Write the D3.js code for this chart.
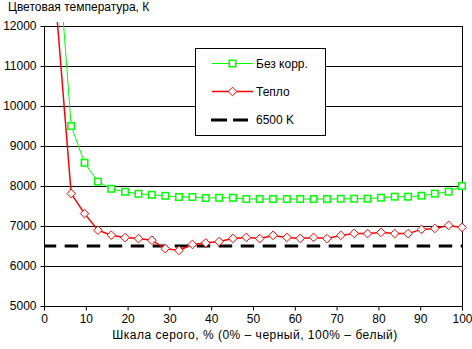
<!DOCTYPE html>
<html>
<head>
<meta charset="utf-8">
<script src="https://cdn.jsdelivr.net/npm/d3@7/dist/d3.min.js"></script>
<style>
  html, body { margin: 0; padding: 0; background: #fff; }
  svg { display: block; }
  text { font-family: "Liberation Sans", Arial, sans-serif; font-size: 12px; fill: #000; }
</style>
</head>
<body>
<svg id="chart" width="472" height="349"></svg>
<script>
// Gray-scale steps, % (0% – black, 100% – white)
const grayLevels = [3.2, 6.5, 9.7, 12.9, 16.1, 19.4, 22.6, 25.8, 29.0, 32.3, 35.5,
  38.7, 41.9, 45.2, 48.4, 51.6, 54.8, 58.1, 61.3, 64.5, 67.7, 71.0, 74.2, 77.4,
  80.6, 83.9, 87.1, 90.3, 93.5, 96.8, 100];

// Colour temperature, K, without correction
const noCorrection = [14100, 9500, 8580, 8110, 7930, 7855, 7805, 7780, 7755, 7725, 7725,
  7700, 7705, 7705, 7675, 7675, 7675, 7675, 7675, 7675, 7675, 7680, 7683, 7683,
  7708, 7733, 7733, 7758, 7808, 7858, 8000];

// Colour temperature, K, "warm" preset
const warm = [12100, 7810, 7310, 6895, 6770, 6710, 6685, 6645, 6435, 6390, 6540,
  6575, 6610, 6690, 6715, 6685, 6765, 6715, 6690, 6715, 6685, 6765, 6815, 6810,
  6840, 6810, 6810, 6915, 6940, 7015, 6965];

const reference = 6500;

const xTicks = [0, 10, 20, 30, 40, 50, 60, 70, 80, 90, 100];
const yTicks = [5000, 6000, 7000, 8000, 9000, 10000, 11000, 12000];

const legendLabels = ["Без корр.", "Тепло", "6500 K"];
const yTitle = "Цветовая температура, К";
const xTitle = "Шкала серого, % (0% – черный, 100% – белый)";

const green = "#00ff00", red = "#ff0000";

const svg = d3.select("#chart");
const plotLeft = 44, plotRight = 462, plotTop = 26, plotBottom = 306;

const x = d3.scaleLinear().domain([0, 100]).range([plotLeft, plotRight]);
const y = d3.scaleLinear().domain([5000, 12000]).range([plotBottom, plotTop]);

// clip for the series lines
svg.append("defs").append("clipPath").attr("id", "plotClip")
  .append("rect").attr("x", plotLeft).attr("y", plotTop - 4)
  .attr("width", plotRight - plotLeft).attr("height", plotBottom - plotTop + 4);

// horizontal grid lines
svg.append("g")
  .selectAll("line").data(yTicks.filter(d => d > 5000)).join("line")
  .attr("x1", plotLeft).attr("x2", plotRight)
  .attr("y1", d => Math.round(y(d)) + 0.5).attr("y2", d => Math.round(y(d)) + 0.5)
  .attr("stroke", "#000").attr("stroke-width", 1);

// right border of plot area
svg.append("line")
  .attr("x1", plotRight + 0.5).attr("x2", plotRight + 0.5)
  .attr("y1", plotTop).attr("y2", plotBottom)
  .attr("stroke", "#000");

// axes
const xAxis = d3.axisBottom(x).tickValues(xTicks).tickSize(4).tickPadding(4).tickFormat(d3.format("d"));
const yAxis = d3.axisLeft(y).tickValues(yTicks).tickSize(4).tickPadding(4).tickFormat(d3.format("d"));

const gx = svg.append("g").attr("transform", `translate(0,${plotBottom + 0.5})`).call(xAxis);
const gy = svg.append("g").attr("transform", `translate(${plotLeft + 0.5},0)`).call(yAxis);
[gx, gy].forEach(g => {
  g.select(".domain").attr("stroke", "#000");
  g.selectAll(".tick line").attr("stroke", "#000");
  g.selectAll("text").attr("font-size", 12).attr("font-family", "Liberation Sans, Arial, sans-serif").attr("fill", "#000");
});
gx.select(".domain").attr("d", `M${plotLeft},0H${plotRight + 0.5}`);
gy.select(".domain").attr("d", `M0,${plotTop}V${plotBottom + 4}`);

// 6500 K reference line
svg.append("line")
  .attr("x1", plotLeft).attr("x2", plotRight)
  .attr("y1", y(reference)).attr("y2", y(reference))
  .attr("stroke", "#000").attr("stroke-width", 3)
  .attr("stroke-dasharray", "13.5,8.5").attr("stroke-dashoffset", 1.3);

const seriesLine = d3.line().x(d => x(d[0])).y(d => y(d[1]));
const inRange = d => d[1] >= 5000 && d[1] <= 12000;

const greenData = grayLevels.map((g, i) => [g, noCorrection[i]]);
const redData = grayLevels.map((g, i) => [g, warm[i]]);

const squareSize = 6.5;
const diamond = (cx, cy, r) => `M${cx},${cy - r}L${cx + r},${cy}L${cx},${cy + r}L${cx - r},${cy}Z`;

// no-correction series
svg.append("path").datum(greenData)
  .attr("clip-path", "url(#plotClip)")
  .attr("d", seriesLine).attr("fill", "none")
  .attr("stroke", green).attr("stroke-width", 1);
svg.append("g").selectAll("rect").data(greenData.filter(inRange)).join("rect")
  .attr("x", d => x(d[0]) - squareSize / 2).attr("y", d => y(d[1]) - squareSize / 2)
  .attr("width", squareSize).attr("height", squareSize)
  .attr("fill", "#fff").attr("stroke", green).attr("stroke-width", 1.5);

// warm series
svg.append("path").datum(redData)
  .attr("clip-path", "url(#plotClip)")
  .attr("d", seriesLine).attr("fill", "none")
  .attr("stroke", red).attr("stroke-width", 1.5);
svg.append("g").selectAll("path").data(redData.filter(inRange)).join("path")
  .attr("d", d => diamond(x(d[0]), y(d[1]), 4.3))
  .attr("fill", "#fff").attr("stroke", red).attr("stroke-width", 1);

// legend
const lg = svg.append("g");
lg.append("rect").attr("x", 195.5).attr("y", 48.5).attr("width", 130).attr("height", 87)
  .attr("fill", "#fff").attr("stroke", "#000");
const rows = [63.5, 91.5, 120];
lg.append("line").attr("x1", 212).attr("x2", 253).attr("y1", rows[0]).attr("y2", rows[0])
  .attr("stroke", green).attr("stroke-width", 1);
lg.append("rect").attr("x", 232.5 - squareSize / 2).attr("y", rows[0] - squareSize / 2)
  .attr("width", squareSize).attr("height", squareSize)
  .attr("fill", "#fff").attr("stroke", green).attr("stroke-width", 1.5);
lg.append("line").attr("x1", 212).attr("x2", 253).attr("y1", rows[1]).attr("y2", rows[1])
  .attr("stroke", red).attr("stroke-width", 1.5);
lg.append("path").attr("d", diamond(232.5, rows[1], 4.3))
  .attr("fill", "#fff").attr("stroke", red).attr("stroke-width", 1);
lg.append("line").attr("x1", 211).attr("x2", 248).attr("y1", rows[2]).attr("y2", rows[2])
  .attr("stroke", "#000").attr("stroke-width", 3).attr("stroke-dasharray", "16,6");
lg.selectAll("text.lbl").data(legendLabels).join("text").attr("class", "lbl")
  .attr("x", 256).attr("y", (d, i) => rows[i] + 4).text(d => d);

// titles
svg.append("text").attr("x", 8).attr("y", 11).text(yTitle);
svg.append("text").attr("x", 255).attr("y", 339).attr("text-anchor", "middle")
  .attr("letter-spacing", 0.5).text(xTitle);
</script>
</body>
</html>
